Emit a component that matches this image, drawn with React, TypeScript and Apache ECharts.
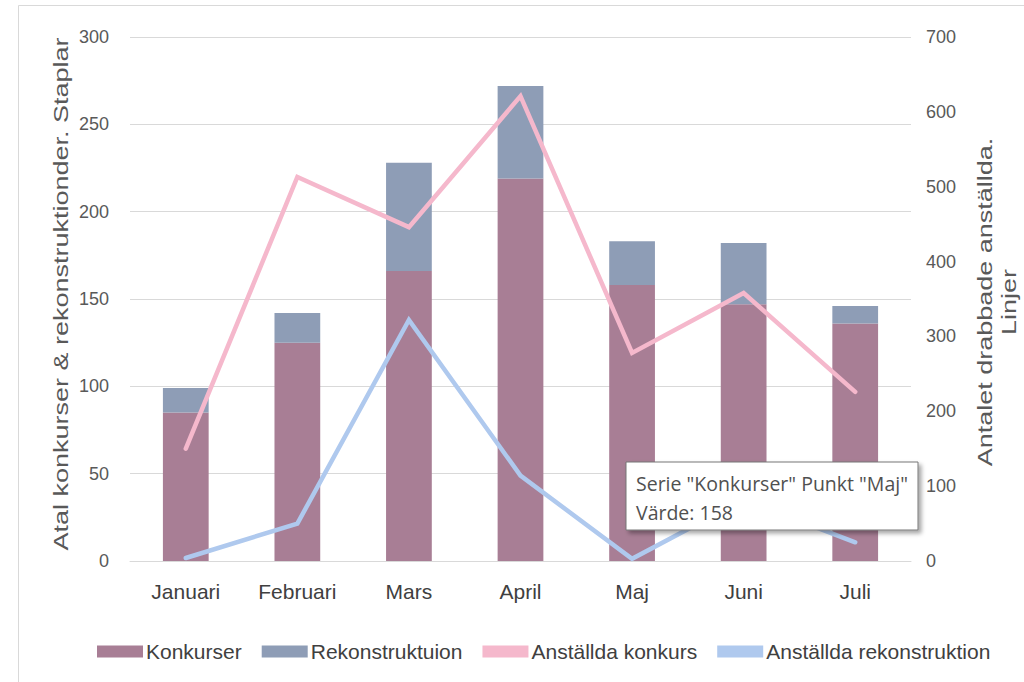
import React, { useEffect, useRef } from "react";
import * as echarts from "echarts";

const categories = ["Januari", "Februari", "Mars", "April", "Maj", "Juni", "Juli"];
const konkurser = [85, 125, 166, 219, 158, 147, 136];
const rekonstruktion = [14, 17, 62, 53, 25, 35, 10];
const anstalldaKonkurs = [150, 513, 446, 621, 278, 358, 226];
const anstalldaRekonstruktion = [4, 50, 322, 114, 3, 82, 25];
const leftTicks = { min: 0, max: 300, interval: 50 };
const rightTicks = { min: 0, max: 700, interval: 100 };
const leftAxisName = "Atal konkurser & rekonstruktionder. Staplar";
const rightAxisName = "Antalet drabbade anställda.\nLinjer";

const SANS = "'Liberation Sans', Arial, sans-serif";
const TIP = "'Open Sans', 'Noto Sans', sans-serif";

export default function App() {
  const ref = useRef<HTMLDivElement>(null);
  useEffect(() => {
    if (!ref.current) return;
    const chart = echarts.init(ref.current, null, { renderer: "svg" });
    const tipIdx = 4;
    chart.setOption({
      animation: false,
      backgroundColor: "#ffffff",
      grid: { left: 130, right: 113, top: 37, bottom: 121, containLabel: false },
      legend: {
        left: 92,
        top: 636,
        itemWidth: 46,
        itemHeight: 12,
        itemGap: 20,
        icon: "rect",
        textStyle: { fontFamily: SANS, fontSize: 21, color: "#404040", padding: [0, 0, 0, -2] },
        data: [
          { name: "Konkurser", icon: "rect" },
          { name: "Rekonstruktuion", icon: "rect" },
          { name: "Anställda konkurs" },
          { name: "Anställda rekonstruktion" },
        ],
      },
      xAxis: {
        type: "category",
        data: categories,
        axisLine: { lineStyle: { color: "#d9d9d9", width: 1 } },
        axisTick: { show: false },
        axisLabel: { fontFamily: SANS, fontSize: 21, color: "#404040", margin: 20 },
      },
      yAxis: [
        {
          type: "value",
          min: leftTicks.min,
          max: leftTicks.max,
          interval: leftTicks.interval,
          axisLabel: { fontFamily: SANS, fontSize: 18, color: "#595959", margin: 21 },
          splitLine: { lineStyle: { color: "#d9d9d9", width: 1 } },
          axisLine: { show: false },
          axisTick: { show: false },
        },
        {
          type: "value",
          min: rightTicks.min,
          max: rightTicks.max,
          interval: rightTicks.interval,
          axisLabel: { fontFamily: SANS, fontSize: 18, color: "#595959", margin: 15 },
          splitLine: { show: false },
          axisLine: { show: false },
          axisTick: { show: false },
        },
      ],
      series: [
        {
          name: "Konkurser",
          type: "bar",
          stack: "total",
          barWidth: "41%",
          data: konkurser,
          itemStyle: { color: "#a87e95" },
        },
        {
          name: "Rekonstruktuion",
          type: "bar",
          stack: "total",
          barWidth: "41%",
          data: rekonstruktion,
          itemStyle: { color: "#8e9db6" },
        },
        {
          name: "Anställda konkurs",
          type: "line",
          yAxisIndex: 1,
          data: anstalldaKonkurs,
          symbol: "none",
          lineStyle: { color: "#f5b8cc", width: 4.5, cap: "round", join: "miter" },
          itemStyle: { color: "#f5b8cc" },
        },
        {
          name: "Anställda rekonstruktion",
          type: "line",
          yAxisIndex: 1,
          data: anstalldaRekonstruktion,
          symbol: "none",
          lineStyle: { color: "#afc9ee", width: 4.5, cap: "round", join: "miter" },
          itemStyle: { color: "#afc9ee" },
        },
      ],
      graphic: [
        {
          type: "rect",
          silent: true,
          shape: { x: 18.5, y: 5.5, width: 1100, height: 800 },
          style: { fill: "none", stroke: "#d9d9d9", lineWidth: 1 },
          z: 0,
        },
        {
          type: "text",
          x: 61,
          y: 294,
          rotation: Math.PI / 2,
          scaleX: 1.35,
          style: {
            text: leftAxisName,
            fontFamily: SANS,
            fontSize: 20,
            fill: "#595959",
            align: "center",
            verticalAlign: "middle",
          },
        },
        {
          type: "text",
          x: 997,
          y: 302,
          rotation: Math.PI / 2,
          scaleX: 1.35,
          style: {
            text: rightAxisName,
            fontFamily: SANS,
            fontSize: 20,
            lineHeight: 24,
            fill: "#595959",
            align: "center",
            verticalAlign: "middle",
          },
        },
        {
          type: "rect",
          z: 100,
          shape: { x: 626, y: 462, width: 292, height: 68 },
          style: {
            fill: "#ffffff",
            stroke: "#767676",
            lineWidth: 1,
            shadowBlur: 4,
            shadowOffsetX: 3,
            shadowOffsetY: 3,
            shadowColor: "rgba(0,0,0,0.35)",
          },
        },
        {
          type: "text",
          z: 101,
          x: 636,
          y: 483,
          style: {
            text: `Serie "Konkurser" Punkt "${categories[tipIdx]}"`,
            fontFamily: TIP,
            fontSize: 19.5,
            fill: "#505050",
            verticalAlign: "middle",
          },
        },
        {
          type: "text",
          z: 101,
          x: 636,
          y: 512,
          style: {
            text: `Värde: ${konkurser[tipIdx]}`,
            fontFamily: TIP,
            fontSize: 19.5,
            fill: "#505050",
            verticalAlign: "middle",
          },
        },
      ],
    });
    return () => chart.dispose();
  }, []);
  return <div ref={ref} style={{ width: 1024, height: 682, position: "absolute", left: 0, top: 0 }} />;
}
